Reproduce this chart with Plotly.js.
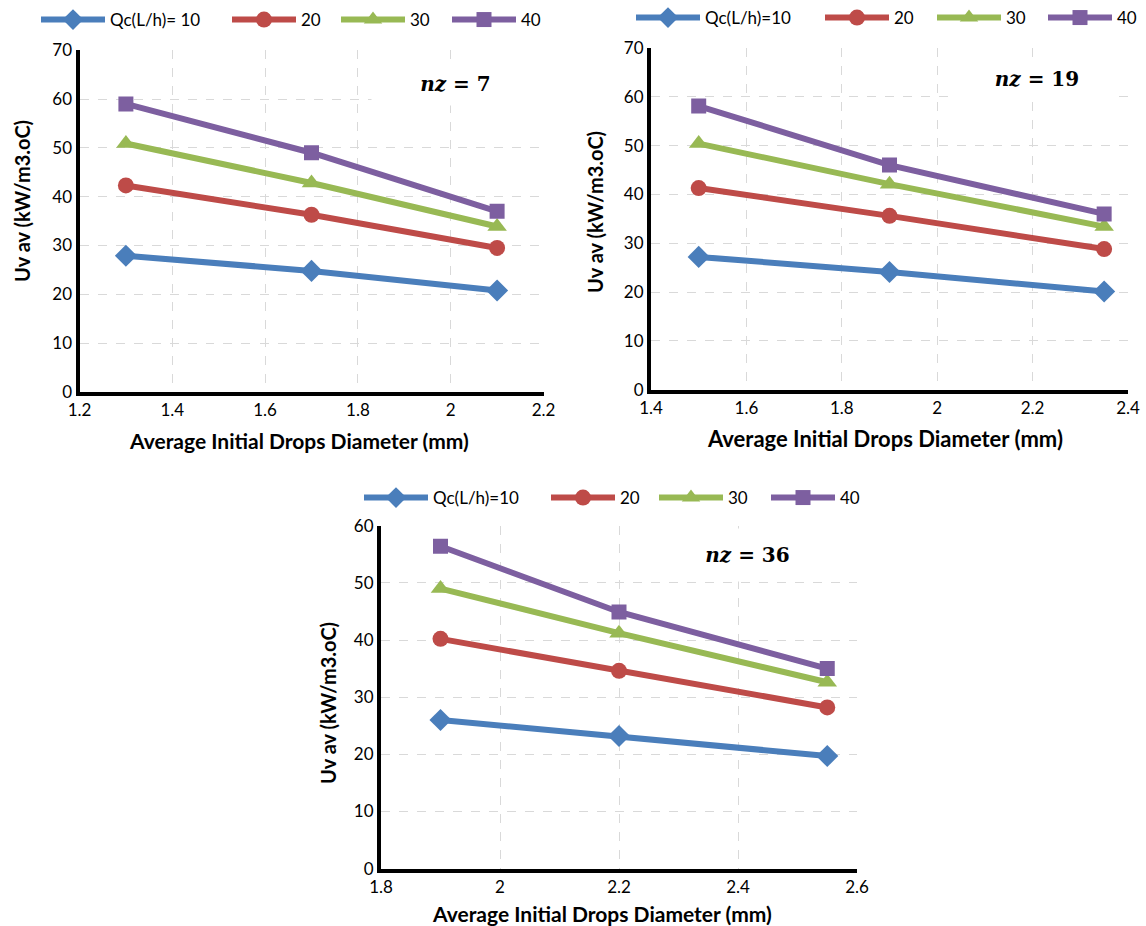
<!DOCTYPE html>
<html>
<head>
<meta charset="utf-8">
<script src="https://cdn.plot.ly/plotly-3.0.1.min.js"></script>
<style>
  html, body { margin: 0; padding: 0; background: #ffffff; }
  #chart { width: 1146px; height: 926px; }
</style>
</head>
<body>
<div id="chart"></div>
<script>
// ---------- Data ----------
const seriesNames1 = ["Qc(L/h)= 10", "20", "30", "40"];
const seriesNames = ["Qc(L/h)=10", "20", "30", "40"];

// nz = 7
const xNz7 = [1.3, 1.7, 2.1];
const nz7_q10 = [27.9, 24.8, 20.8];
const nz7_q20 = [42.3, 36.3, 29.5];
const nz7_q30 = [50.9, 42.8, 33.9];
const nz7_q40 = [59.0, 49.0, 37.0];

// nz = 19
const xNz19 = [1.5, 1.9, 2.35];
const nz19_q10 = [27.2, 24.1, 20.1];
const nz19_q20 = [41.3, 35.6, 28.8];
const nz19_q30 = [50.4, 42.1, 33.4];
const nz19_q40 = [58.1, 46.0, 36.0];

// nz = 36
const xNz36 = [1.9, 2.2, 2.55];
const nz36_q10 = [26.0, 23.2, 19.7];
const nz36_q20 = [40.2, 34.6, 28.2];
const nz36_q30 = [49.0, 41.2, 32.6];
const nz36_q40 = [56.4, 44.9, 35.0];

const annotationTexts = ["<b><i>nz</i> = 7</b>", "<b><i>nz</i> = 19</b>", "<b><i>nz</i> = 36</b>"];
const xTitle = "Average Initial Drops Diameter (mm)";
const yTitle = "Uv av (kW/m3.oC)";

// ---------- Styles ----------
const colors = ["#4a7ebb", "#be4b48", "#98b954", "#7d5fa0"];
const symbols = ["diamond", "circle", "triangle-up", "square"];
const msizes = [17, 16, 17, 15];
const FONT = "Lato, 'Open Sans', sans-serif";
const W = 1146, H = 926;

let legendCount = 0;
const legends = {};
function makeTraces(x, ys, names, xa, ya, legendStarts, legendY) {
  return ys.map((y, i) => {
    legendCount += 1;
    const key = legendCount === 1 ? "legend" : "legend" + legendCount;
    legends[key] = {
      x: (legendStarts[i] - 5) / W, y: 1 - legendY / H,
      xref: "paper", yref: "paper", xanchor: "left", yanchor: "middle",
      orientation: "h", font: { family: FONT, size: 17, color: "#000" },
      bgcolor: "rgba(0,0,0,0)", itemwidth: 64
    };
    return {
      type: "scatter",
      mode: "lines+markers",
      x: x, y: y, name: names[i],
      xaxis: xa, yaxis: ya, legend: key,
      line: { color: colors[i], width: 6 },
      marker: { color: colors[i], symbol: symbols[i], size: msizes[i] },
      hoverinfo: "x+y+name"
    };
  });
}

const traces = [].concat(
  makeTraces(xNz7, [nz7_q10, nz7_q20, nz7_q30, nz7_q40], seriesNames1, "x", "y", [41, 232, 341, 452], 20),
  makeTraces(xNz19, [nz19_q10, nz19_q20, nz19_q30, nz19_q40], seriesNames, "x2", "y2", [636, 825, 937, 1048], 18),
  makeTraces(xNz36, [nz36_q10, nz36_q20, nz36_q30, nz36_q40], seriesNames, "x3", "y3", [364, 551, 659, 771], 498)
);

function xAxis(domain, range, anchor) {
  return {
    domain: domain, range: range, dtick: 0.2, tick0: 0, anchor: anchor,
    showline: true, linewidth: 4, linecolor: "#000000",
    showgrid: true, gridcolor: "#d9d9d9", griddash: "dash", gridwidth: 1,
    zeroline: false, ticks: "", fixedrange: true,
    tickfont: { family: FONT, size: 17, color: "#000" }
  };
}
function yAxis(domain, range, anchor) {
  return {
    domain: domain, range: range, dtick: 10, anchor: anchor,
    showline: true, linewidth: 4, linecolor: "#000000",
    showgrid: true, gridcolor: "#d9d9d9", griddash: "dash", gridwidth: 1,
    zeroline: false, ticks: "", fixedrange: true,
    tickfont: { family: FONT, size: 17, color: "#000" }
  };
}

function ann(text, xref, yref, x, y, w, h) {
  return {
    text: text, xref: xref, yref: yref, x: x, y: y, xanchor: "center", yanchor: "middle",
    showarrow: false, bgcolor: "#ffffff", width: w, height: h,
    font: { family: "'DejaVu Serif', 'Liberation Serif', serif", size: 20, color: "#000" }
  };
}
function titleAnn(text, px, py, size, angle) {
  return {
    text: "<b>" + text + "</b>", xref: "paper", yref: "paper",
    x: px / W, y: 1 - py / H, xanchor: "center", yanchor: "middle",
    showarrow: false, textangle: angle,
    font: { family: FONT, size: size, color: "#000" }
  };
}

const layout = Object.assign({
  width: W, height: H,
  margin: { l: 0, r: 0, t: 0, b: 0 },
  paper_bgcolor: "#ffffff", plot_bgcolor: "#ffffff",
  showlegend: true,
  xaxis: xAxis([79.5 / W, 543.5 / W], [1.2, 2.2], "y"),
  yaxis: yAxis([1 - 392 / H, 1 - 50.2 / H], [0, 70], "x"),
  xaxis2: xAxis([651 / W, 1128 / W], [1.4, 2.4], "y2"),
  yaxis2: yAxis([1 - 389.7 / H, 1 - 47.9 / H], [0, 70], "x2"),
  xaxis3: xAxis([381 / W, 857 / W], [1.8, 2.6], "y3"),
  yaxis3: yAxis([1 - 868.6 / H, 1 - 525.7 / H], [0, 60], "x3"),
  annotations: [
    ann(annotationTexts[0], "x domain", "y domain", 0.81, 0.9, 165, 40),
    ann(annotationTexts[1], "x2 domain", "y2 domain", 0.81, 0.91, 160, 40),
    ann(annotationTexts[2], "x3 domain", "y3 domain", 0.77, 0.915, 177, 50),
    titleAnn(yTitle, 22, 201, 20, -90),
    titleAnn(yTitle, 595, 212, 20, -90),
    titleAnn(yTitle, 328, 703, 20, -90),
    titleAnn(xTitle, 299, 440, 21, 0),
    titleAnn(xTitle, 885, 438, 22, 0),
    titleAnn(xTitle, 602, 913, 21, 0)
  ]
}, legends);

Plotly.newPlot("chart", traces, layout, { displayModeBar: false, responsive: false });
</script>
</body>
</html>
